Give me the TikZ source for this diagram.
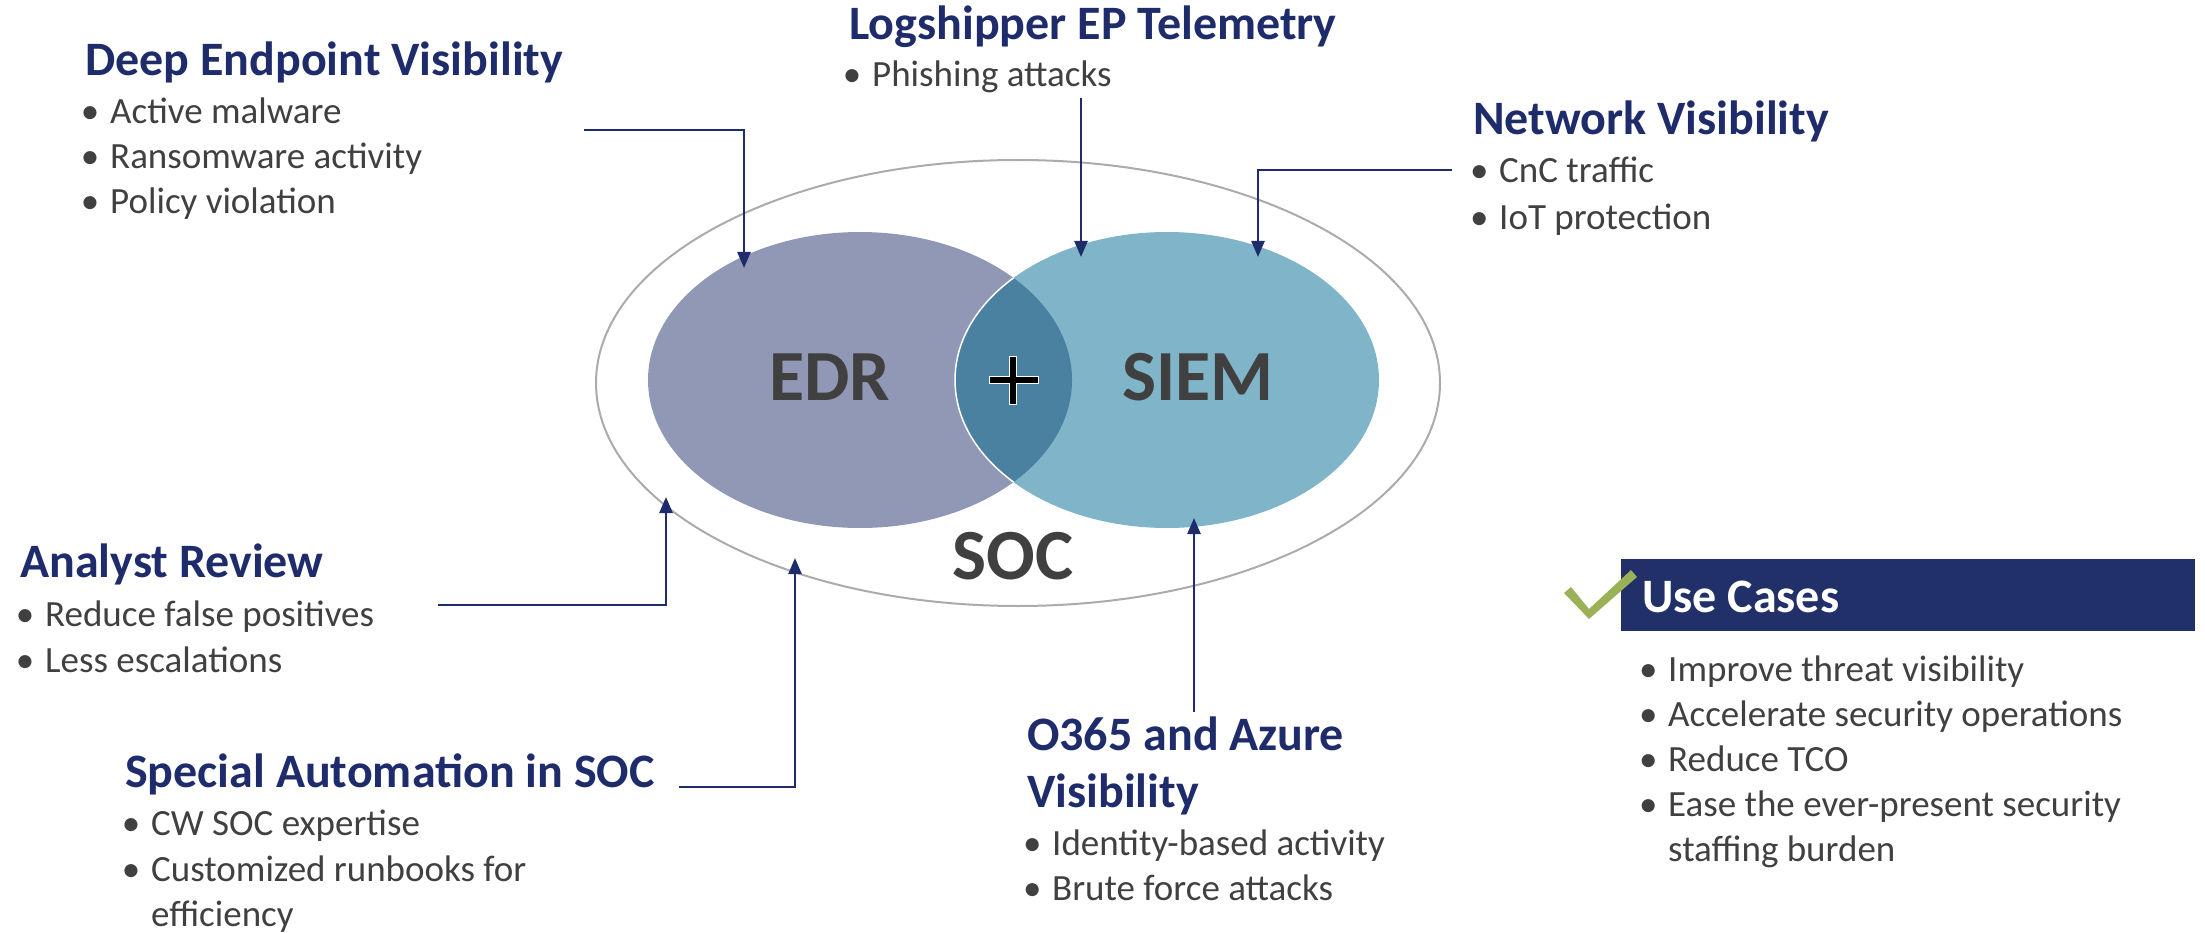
\documentclass[tikz,border=0pt]{standalone}
\usepackage{fontspec}
\setmainfont{Carlito}
\usetikzlibrary{arrows.meta,shapes.geometric}
\definecolor{navy}{HTML}{1F2C6B}
\definecolor{txt}{HTML}{404040}
\definecolor{edrc}{HTML}{9198B5}
\definecolor{siemc}{HTML}{80B4C8}
\definecolor{ovc}{HTML}{4A80A0}
\definecolor{socc}{HTML}{ABABAB}
\definecolor{chk}{HTML}{9BB158}
\definecolor{ucbox}{HTML}{22306A}
% bullet centred 20pt left of the text start
\newcommand{\bul}[1]{\llap{\makebox[0pt][c]{\textbullet}\hspace{20pt}}#1}
\begin{document}
\begin{tikzpicture}[x=1pt,y=-1pt,
 title/.style={anchor=base west,inner sep=0,text=navy,font=\fontsize{48}{58}\selectfont\bfseries},
 body/.style={anchor=base west,inner sep=0,text=txt,font=\fontsize{37}{45}\selectfont},
 big/.style={inner sep=0,text=txt,font=\fontsize{72}{86}\selectfont\bfseries},
 conn/.style={draw=navy,line width=2.5pt,-{Triangle[length=16pt,width=13pt]}},
 blob/.style={ellipse,inner sep=0,outer sep=0,minimum width=424,minimum height=296},
]
\useasboundingbox (0,0) rectangle (2205,933);

% SOC outer ellipse
\node[ellipse,draw=socc,line width=2pt,inner sep=0,minimum width=844,minimum height=446] (soc) at (1018,383) {};
% EDR and SIEM
\node[blob,fill=edrc] (edr) at (860,380) {};
\node[blob,fill=siemc] (siem) at (1167,380) {};
\begin{scope}
  \clip (860,380) ellipse [x radius=212,y radius=148];
  \fill[ovc] (1167,380) ellipse [x radius=212,y radius=148];
  \draw[white,line width=1.5pt] (1167,380) ellipse [x radius=212,y radius=148];
\end{scope}
% plus sign
\filldraw[fill=black,draw=white,line width=1pt]
  (1009.5,356) -- (1016.5,356) -- (1016.5,376.5) -- (1038,376.5) -- (1038,383.5) -- (1016.5,383.5)
  -- (1016.5,404) -- (1009.5,404) -- (1009.5,383.5) -- (989,383.5) -- (989,376.5) -- (1009.5,376.5) -- cycle;

\node[big] (edrt) at (830,377) {EDR};
\node[big] (siemt) at (1198,377) {SIEM};
\node[big] (soct) at (1013,556) {SOC};

% Deep Endpoint Visibility
\node[title] (dev) at (85,76) {Deep Endpoint Visibility};
\node[body] (dev1) at (110,124) {\bul{Active malware}};
\node[body] (dev2) at (110,169) {\bul{Ransomware activity}};
\node[body] (dev3) at (110,214) {\bul{Policy violation}};

% Logshipper
\node[title] (log) at (849,40) {Logshipper EP Telemetry};
\node[body] (log1) at (872,87) {\bul{Phishing attacks}};

% Network
\node[title] (net) at (1473,135) {Network Visibility};
\node[body] (net1) at (1499,183) {\bul{CnC traffic}};
\node[body] (net2) at (1499,230) {\bul{IoT protection}};

% Analyst Review
\node[title] (ana) at (20,577) {Analyst Review};
\node[body] (ana1) at (45,626) {\bul{Reduce false positives}};
\node[body] (ana2) at (45,672) {\bul{Less escalations}};

% Special Automation
\node[title] (spe) at (125,787) {Special Automation in SOC};
\node[body] (spe1) at (151,835) {\bul{CW SOC expertise}};
\node[body] (spe2) at (151,881) {\bul{Customized runbooks for}};
\node[body] (spe3) at (151,926) {efficiency};

% O365
\node[title] (o1) at (1027,750) {O365 and Azure};
\node[title] (o2) at (1027,807) {Visibility};
\node[body] (o3) at (1052,855) {\bul{Identity-based activity}};
\node[body] (o4) at (1052,900) {\bul{Brute force attacks}};

% Use cases
\node[fill=ucbox,inner sep=0,minimum width=574,minimum height=72,anchor=north west] (ucb) at (1621,559) {};
\node[anchor=base west,inner sep=0,text=white,font=\fontsize{48}{58}\selectfont\bfseries] (uct) at (1642,612) {Use Cases};
\fill[chk] (1564,593) -- (1571,587) -- (1589,609) -- (1631,570) -- (1637,577) -- (1589,619) -- cycle;
\node[body] (uc1) at (1668,681) {\bul{Improve threat visibility}};
\node[body] (uc2) at (1668,726) {\bul{Accelerate security operations}};
\node[body] (uc3) at (1668,771) {\bul{Reduce TCO}};
\node[body] (uc4) at (1668,816) {\bul{Ease the ever-present security}};
\node[body] (uc5) at (1668,861) {staffing burden};

% connector endpoints
\coordinate (devs) at (584,130);
\coordinate (devt) at (744,268);
\coordinate (logs) at (1081,98);
\coordinate (logt) at (1081,257);
\coordinate (nets) at (1452,170);
\coordinate (nett) at (1258,257);
\coordinate (anas) at (438,605);
\coordinate (anat) at (666,497);
\coordinate (spes) at (679,787);
\coordinate (spet) at (795,558);
\coordinate (os) at (1194,712);
\coordinate (ot) at (1194,518);

\draw[conn] (devs) -| (devt);
\draw[conn] (logs) -- (logt);
\draw[conn] (nets) -| (nett);
\draw[conn] (anas) -| (anat);
\draw[conn] (spes) -| (spet);
\draw[conn] (os) -- (ot);
\end{tikzpicture}
\end{document}
